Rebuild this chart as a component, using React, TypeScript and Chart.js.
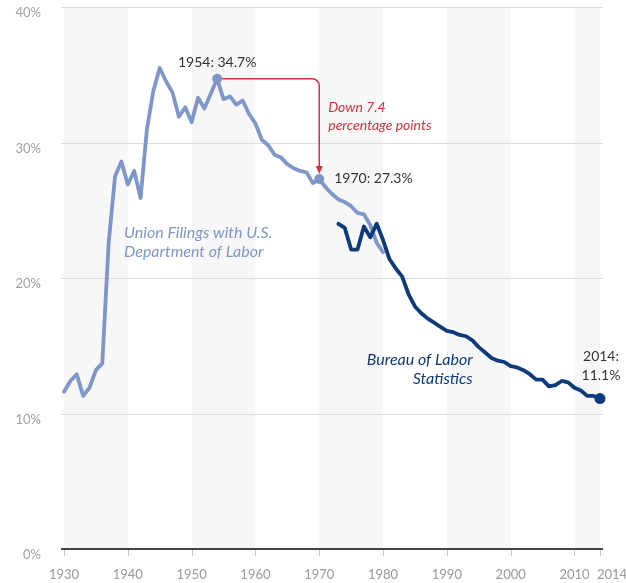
import React, { useEffect, useRef } from "react";
import { Chart, registerables } from "chart.js";

Chart.register(...registerables);

const unionYears: number[] = [];
for (let y = 1930; y <= 1980; y++) unionYears.push(y);
const unionValues = [
  11.6, 12.4, 12.9, 11.3, 11.9, 13.2, 13.7, 22.6, 27.5, 28.6,
  26.9, 27.9, 25.9, 31.0, 33.8, 35.5, 34.5, 33.7, 31.9, 32.6,
  31.5, 33.3, 32.5, 33.6, 34.7, 33.2, 33.4, 32.8, 33.1, 32.1,
  31.4, 30.2, 29.8, 29.1, 28.9, 28.4, 28.1, 27.9, 27.8, 27.0,
  27.3, 26.7, 26.2, 25.8, 25.6, 25.3, 24.8, 24.7, 23.9, 22.6,
  21.9,
];

const blsYears: number[] = [];
for (let y = 1973; y <= 2014; y++) blsYears.push(y);
const blsValues = [
  24.0, 23.7, 22.1, 22.1, 23.8, 23.0, 24.0, 22.8, 21.4, 20.7,
  20.1, 18.8, 17.9, 17.4, 17.0, 16.7, 16.4, 16.1, 16.0, 15.8,
  15.7, 15.4, 14.9, 14.5, 14.1, 13.9, 13.8, 13.5, 13.4, 13.2,
  12.9, 12.5, 12.5, 12.0, 12.1, 12.4, 12.3, 11.9, 11.7, 11.3,
  11.3, 11.1,
];

const xTickValues = [1930, 1940, 1950, 1960, 1970, 1980, 1990, 2000, 2010, 2014];
const yTickValues = [0, 10, 20, 30, 40];
const shadedBands: [number, number][] = [
  [1930, 1940], [1950, 1960], [1970, 1980], [1990, 2000], [2010, 2014],
];
const highlightUnionYears = [1954, 1970];

const LIGHT = "#7f96cb";
const DARK = "#0c3a7b";
const RED = "#d4313c";
const FONT = "Lato, 'Open Sans', sans-serif";

const decorPlugin = {
  id: "decor",
  beforeDatasetsDraw(chart: any) {
    const { ctx, chartArea, scales } = chart;
    const xs = scales.x;
    const ys = scales.y;
    ctx.save();
    ctx.fillStyle = "#f7f7f7";
    for (const [a, b] of shadedBands) {
      const x0 = xs.getPixelForValue(a);
      const x1 = xs.getPixelForValue(b);
      ctx.fillRect(x0, chartArea.top, x1 - x0, chartArea.bottom - chartArea.top);
    }
    ctx.strokeStyle = "#dcdcdc";
    ctx.lineWidth = 1;
    for (const v of yTickValues) {
      if (v === 0) continue;
      const y = Math.round(ys.getPixelForValue(v)) + 0.5;
      ctx.beginPath();
      ctx.moveTo(chartArea.left - 3, y);
      ctx.lineTo(chartArea.right + 3, y);
      ctx.stroke();
    }
    // tick marks
    ctx.strokeStyle = "#c8c8c8";
    for (const v of xTickValues) {
      const x = Math.round(xs.getPixelForValue(v)) + 0.5;
      ctx.beginPath();
      ctx.moveTo(x, chartArea.bottom);
      ctx.lineTo(x, chartArea.bottom + 7);
      ctx.stroke();
    }
    // axis line
    ctx.strokeStyle = "#444";
    ctx.lineWidth = 2;
    const yb = ys.getPixelForValue(0);
    ctx.beginPath();
    ctx.moveTo(chartArea.left - 3, yb);
    ctx.lineTo(chartArea.right + 3, yb);
    ctx.stroke();
    // x labels
    ctx.fillStyle = "#999";
    ctx.font = `13px ${FONT}`;
    ctx.textBaseline = "middle";
    for (const v of xTickValues) {
      const x = xs.getPixelForValue(v);
      if (v === 2014) {
        ctx.textAlign = "left";
        ctx.fillText(String(v), x - 3, chartArea.bottom + 26);
      } else {
        ctx.textAlign = "center";
        ctx.fillText(String(v), x, chartArea.bottom + 26);
      }
    }
    ctx.restore();
  },
  afterDatasetsDraw(chart: any) {
    const { ctx, scales } = chart;
    const xs = scales.x;
    const ys = scales.y;
    const x54 = xs.getPixelForValue(1954);
    const y54 = ys.getPixelForValue(unionValues[unionYears.indexOf(1954)]);
    const x70 = xs.getPixelForValue(1970);
    const y70 = ys.getPixelForValue(unionValues[unionYears.indexOf(1970)]);
    ctx.save();
    // arrow
    ctx.strokeStyle = RED;
    ctx.lineWidth = 1.5;
    ctx.beginPath();
    ctx.moveTo(x54 + 5, y54);
    ctx.arcTo(x70, y54, x70, y54 + 20, 7);
    ctx.lineTo(x70, y70 - 12);
    ctx.stroke();
    ctx.fillStyle = RED;
    ctx.beginPath();
    ctx.moveTo(x70 - 3.5, y70 - 13);
    ctx.lineTo(x70 + 3.5, y70 - 13);
    ctx.lineTo(x70, y70 - 5);
    ctx.closePath();
    ctx.fill();

    ctx.textBaseline = "middle";
    ctx.fillStyle = "#333";
    ctx.font = `14px ${FONT}`;
    ctx.textAlign = "center";
    ctx.fillText("1954: 34.7%", x54, y54 - 16);
    ctx.textAlign = "left";
    ctx.fillText("1970: 27.3%", x70 + 15, y70 - 1);

    const x14 = xs.getPixelForValue(2014);
    const y14 = ys.getPixelForValue(blsValues[blsValues.length - 1]);
    ctx.textAlign = "center";
    ctx.fillText("2014:", x14 + 1, y14 - 42);
    ctx.fillText("11.1%", x14 + 1, y14 - 23);

    ctx.fillStyle = RED;
    ctx.font = `italic 14px ${FONT}`;
    ctx.textAlign = "left";
    ctx.fillText("Down 7.4", x70 + 9, y54 + 29);
    ctx.fillText("percentage points", x70 + 9, y54 + 47);

    ctx.fillStyle = LIGHT;
    ctx.font = `italic 16px ${FONT}`;
    const ux = xs.getPixelForValue(1939.4);
    ctx.fillText("Union Filings with U.S.", ux, ys.getPixelForValue(23.3));
    ctx.fillText("Department of Labor", ux, ys.getPixelForValue(21.9));

    ctx.fillStyle = DARK;
    ctx.textAlign = "right";
    const bx = xs.getPixelForValue(1994.05);
    ctx.fillText("Bureau of Labor", bx, ys.getPixelForValue(13.95));
    ctx.fillText("Statistics", bx, ys.getPixelForValue(12.55));
    ctx.restore();
  },
};

export default function App() {
  const ref = useRef<HTMLCanvasElement>(null);
  useEffect(() => {
    if (!ref.current) return;
    const chart = new Chart(ref.current, {
      type: "line",
      data: {
        datasets: [
          {
            label: "Bureau of Labor Statistics",
            data: blsYears.map((x, i) => ({ x, y: blsValues[i] })),
            borderColor: DARK,
            backgroundColor: DARK,
            borderWidth: 3.8,
            borderJoinStyle: "round",
            borderCapStyle: "round",
            tension: 0,
            pointRadius: blsYears.map((y) => (y === 2014 ? 5.5 : 0)),
            pointBorderWidth: 0,
            clip: false,
            order: 0,
          },
          {
            label: "Union Filings with U.S. Department of Labor",
            data: unionYears.map((x, i) => ({ x, y: unionValues[i] })),
            borderColor: LIGHT,
            backgroundColor: LIGHT,
            borderWidth: 3.8,
            borderJoinStyle: "round",
            borderCapStyle: "round",
            tension: 0,
            pointRadius: unionYears.map((y) => (highlightUnionYears.includes(y) ? 5 : 0)),
            pointBorderWidth: 0,
            clip: false,
            order: 1,
          },
        ],
      },
      options: {
        animation: false,
        responsive: true,
        maintainAspectRatio: false,
        layout: { autoPadding: false, padding: { top: 7, right: 26, bottom: 0, left: 0 } },
        plugins: { legend: { display: false }, tooltip: { enabled: false } },
        scales: {
          x: {
            type: "linear",
            min: 1930,
            max: 2014,
            grid: { display: false },
            border: { display: false },
            ticks: { display: false },
            afterFit: (s: any) => {
              s.height = 34;
              s.paddingLeft = 0;
              s.paddingRight = 0;
            },
          },
          y: {
            min: 0,
            max: 40,
            grid: { display: false, drawTicks: false },
            border: { display: false },
            afterBuildTicks: (s: any) => {
              s.ticks = yTickValues.map((v) => ({ value: v }));
            },
            ticks: {
              padding: 23,
              labelOffset: 6,
              color: "#a0a0a0",
              font: { family: FONT, size: 13, lineHeight: 1 },
              callback: (v: any) => `${v}%`,
            },
            afterFit: (s: any) => {
              s.width = 64;
              s.paddingTop = 0;
              s.paddingBottom = 0;
            },
          },
        },
      },
      plugins: [decorPlugin],
    });
    return () => chart.destroy();
  }, []);
  return (
    <div style={{ position: "absolute", left: 0, top: 0, width: 626, height: 583, background: "#fff" }}>
      <canvas ref={ref} />
    </div>
  );
}
